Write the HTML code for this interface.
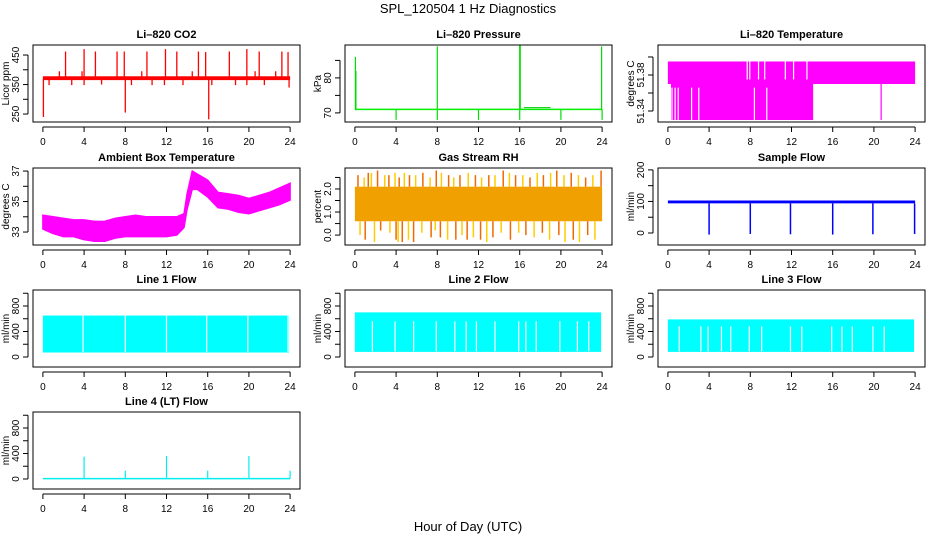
<!DOCTYPE html>
<html><head><meta charset="utf-8"><style>
body{margin:0;background:#fff}
svg{display:block;font-family:"Liberation Sans",Arial,sans-serif}
</style></head><body>
<svg id="chart" width="936" height="540" viewBox="0 0 936 540">
<text x="468" y="13" text-anchor="middle" font-size="13">SPL_120504  1 Hz Diagnostics</text>
<text x="468" y="531" text-anchor="middle" font-size="13">Hour of Day (UTC)</text>
</svg>
<script>
// ---- data arrays ----
const xTicks = [0,4,8,12,16,20,24];
const hours = [0,1,2,3,4,5,6,7,8,9,10,11,12,13,13.7,14,14.5,15,16,17,18,19,20,21,22,23,24];
// CO2
const co2Base = [365,378];
const co2SpikeHours = [2.2,4.0,5.1,7.2,7.9,10.1,11.9,13.0,15.1,15.8,18.1,19.8,21.0,23.2,23.8,1.6,3.8,9.6,14.5,20.6,22.6];
const co2SpikeValues = [462,470,462,462,462,462,470,462,462,460,462,470,462,462,460,395,395,395,395,395,395];
const co2DipHours = [0.05,8.0,16.1,0.6,2.8,4.0,5.7,8.6,10.6,11.8,13.6,16.4,18.7,19.8,21.5,23.9];
const co2DipValues = [240,255,232,348,348,348,350,348,348,348,348,348,348,348,348,340];
// Pressure
const presBase = 71;
const presSpikeHours = [0.05,0.1,8.0,16.0,16.05,23.95];
const presSpikeValues = [86,82,89,89.5,89.5,89];
const presDipHours = [4.0,8.0,12.0,16.0,20.0,24.0];
const presDipValues = [68,68,68,68,68,68];
// Li-820 temperature
const tempUpper = [51.37,51.395];
const tempLower = [51.33,51.37];
const tempLowerEnd = 14.1;
const tempUpperGaps = [7.7,7.95,8.8,9.4,11.4,12.2,13.5];
const tempLowerGaps = [0.4,0.7,1.0,2.3,3.0,8.4,9.6];
const tempLowerExtra = [20.7];
// Ambient box temperature
const ambMin = [33.2,32.9,32.7,32.7,32.5,32.4,32.4,32.6,32.7,32.7,32.7,32.7,32.7,32.8,33.3,34.5,35.8,35.8,35.3,34.6,34.5,34.3,34.2,34.4,34.6,34.8,35.1];
const ambMax = [34.1,34.0,33.9,33.8,33.8,33.7,33.7,33.9,34.0,34.1,34.0,34.0,34.0,34.0,34.2,35.5,37.0,36.8,36.4,35.6,35.5,35.4,35.2,35.4,35.6,35.9,36.2];
// Gas stream RH
const rhBand = [0.6,2.1];
const rhUpHours = [0.3,0.9,1.3,1.6,2.2,2.9,3.3,3.9,4.3,4.8,5.3,5.9,6.6,7.3,7.9,8.4,9.1,9.6,10.2,11.0,11.7,12.3,13.0,13.6,14.4,15.0,15.6,16.3,17.0,17.7,18.3,19.0,19.6,20.3,21.0,21.7,22.4,23.1,23.9];
const rhUpValues = [2.6,2.5,2.7,2.7,2.8,2.6,2.6,2.7,2.5,2.7,2.6,2.6,2.7,2.5,2.8,2.7,2.6,2.5,2.6,2.7,2.6,2.5,2.6,2.6,2.8,2.7,2.6,2.6,2.5,2.7,2.6,2.7,2.8,2.6,2.7,2.6,2.5,2.6,2.8];
const rhDownHours = [0.5,1.0,1.9,2.5,3.4,4.0,4.2,4.6,5.2,5.7,6.5,7.4,7.8,8.3,9.0,9.8,10.4,10.9,11.5,12.2,12.8,13.4,14.2,15.1,15.9,16.6,17.4,18.2,18.9,19.8,20.4,21.2,21.8,22.6,23.3];
const rhDownValues = [0.0,-0.2,-0.3,0.2,0.1,-0.2,-0.3,-0.3,-0.2,-0.3,0.1,-0.1,0.2,-0.1,-0.2,-0.2,0.0,-0.2,-0.1,-0.2,-0.3,-0.1,0.1,-0.2,0.1,0.0,-0.1,0.1,-0.2,0.0,-0.3,-0.2,-0.3,0.0,-0.2];
// Sample flow
const sampleBand = [94,103];
const sampleDipHours = [4.0,8.0,11.9,16.0,19.9,23.95];
const sampleDipValues = [-5,-3,-4,-5,-4,-3];
// Line flows
const line1Band = [70,650];
const line1Gaps = [3.9,8.0,12.0,15.9,19.9,23.8];
const line1GapTop = 650;
const line2Band = [80,700];
const line2Gaps = [1.7,3.9,5.7,7.9,9.7,10.8,11.8,13.6,15.9,16.6,17.6,19.9,21.6,22.7];
const line2GapTop = 560;
const line3Band = [80,590];
const line3Gaps = [1.1,3.2,3.9,5.2,6.1,7.9,9.1,11.9,13.0,15.9,16.9,17.9,19.9,21.0];
const line3GapTop = 480;
const line4Base = 5;
const line4SpikeHours = [4.0,8.0,12.0,16.0,20.0,24.0];
const line4SpikeValues = [350,130,360,130,360,130];

// ---- layout ----
const NS="http://www.w3.org/2000/svg";
const svg=document.getElementById('chart');
const cols=[33,345,658], rows=[45,168,290,412], W=267, H=77;
const defs=document.createElementNS(NS,'defs');svg.appendChild(defs);
let clipId=0;
function el(tag,attrs,parent){const e=document.createElementNS(NS,tag);for(const k in attrs)e.setAttribute(k,attrs[k]);(parent||svg).appendChild(e);return e;}

function panel(name,title,col,row,ylim,yticks,ylabels,ylab){
  const x0=cols[col],y0=rows[row];
  const g=el('g',{});
  
  
  const sx=v=>x0+(v+0.96)/25.92*W;
  const sy=v=>y0+H-(v-ylim[0])/(ylim[1]-ylim[0])*H;
  const t=el('text',{x:x0+W/2,y:y0-7,'text-anchor':'middle','font-size':11,'font-weight':'bold'},g);
  t.textContent=title;
  
  
  const cid='clip'+(clipId++);
  const cp=el('clipPath',{id:cid},defs);
  el('rect',{x:x0,y:y0,width:W,height:H},cp);
  const plot=el('g',{'clip-path':`url(#${cid})`},g);
  
  
  const box=el('rect',{x:x0,y:y0,width:W,height:H,fill:'none',stroke:'#000','stroke-width':1},g);
  
  
  const xa=el('g',{},g);
  
  
  el('line',{x1:sx(0),x2:sx(24),y1:y0+H+5,y2:y0+H+5,stroke:'#000'},xa);
  xTicks.forEach(v=>{
    el('line',{x1:sx(v),x2:sx(v),y1:y0+H+5,y2:y0+H+10,stroke:'#000'},xa);
    const tx=el('text',{x:sx(v),y:y0+H+23,'text-anchor':'middle','font-size':10},xa);tx.textContent=v;
  });
  const ya=el('g',{},g);
  
  
  const ax=x0-5;
  el('line',{x1:ax,x2:ax,y1:sy(yticks[0]),y2:sy(yticks[yticks.length-1]),stroke:'#000'},ya);
  yticks.forEach(v=>{el('line',{x1:ax-5,x2:ax,y1:sy(v),y2:sy(v),stroke:'#000'},ya);});
  ylabels.forEach(v=>{
    const ty=el('text',{x:0,y:0,'text-anchor':'middle','font-size':10,transform:`translate(${ax-9},${sy(v)}) rotate(-90)`},ya);ty.textContent=v;
  });
  const yl=el('text',{x:0,y:0,'text-anchor':'middle','font-size':10,transform:`translate(${x0-24},${y0+H/2}) rotate(-90)`},g);
  yl.textContent=ylab;
  
  
  return {sx,sy,g:plot,x0,y0};
}
function vline(p,h,a,b,color,w){el('line',{x1:p.sx(h),x2:p.sx(h),y1:p.sy(a),y2:p.sy(b),stroke:color,'stroke-width':w||1.5},p.g);}
function band(p,h0,h1,a,b,color){el('rect',{x:p.sx(h0),y:p.sy(b),width:p.sx(h1)-p.sx(h0),height:p.sy(a)-p.sy(b),fill:color},p.g);}

// CO2
let p=panel('co2','Li–820 CO2',0,0,[223,484],[250,300,350,400,450],[250,350,450],'Licor ppm');
band(p,0,24,co2Base[0],co2Base[1],'#ff0000');
co2SpikeHours.forEach((h,i)=>vline(p,h,370,co2SpikeValues[i],'#ff0000',1.3));
co2DipHours.forEach((h,i)=>vline(p,h,370,co2DipValues[i],'#ff0000',1.3));
// Pressure
p=panel('pressure','Li–820 Pressure',1,0,[67.4,89.4],[70,75,80,85],[70,80],'kPa');
el('line',{x1:p.sx(0),x2:p.sx(24),y1:p.sy(presBase),y2:p.sy(presBase),stroke:'#00ee00','stroke-width':1.5},p.g);
el('line',{x1:p.sx(16.4),x2:p.sx(19),y1:p.sy(71.5),y2:p.sy(71.5),stroke:'#00cc00','stroke-width':1},p.g);
presSpikeHours.forEach((h,i)=>vline(p,h,presBase,presSpikeValues[i],'#00dd00',1.2));
presDipHours.forEach((h,i)=>vline(p,h,presBase,presDipValues[i],'#00dd00',1.2));
// Temperature
p=panel('li820-temp','Li–820 Temperature',2,0,[51.3278,51.4133],[51.34,51.36,51.38,51.40],[51.34,51.38],'degrees C');
band(p,0,24,tempUpper[0],tempUpper[1],'#ff00ff');
band(p,0.3,tempLowerEnd,tempLower[0],tempLower[1],'#ff00ff');
tempUpperGaps.forEach(h=>vline(p,h,tempUpper[1],51.375,'#fff',1.2));
tempLowerGaps.forEach(h=>vline(p,h,tempLower[0],51.366,'#fff',1.2));
tempLowerExtra.forEach(h=>vline(p,h,tempLower[0],tempLower[1],'#ff00ff',1.2));
// Ambient
p=panel('ambient-temp','Ambient Box Temperature',0,1,[32.15,37.2],[33,34,35,36,37],[33,35,37],'degrees C');
{let pts=hours.map((h,i)=>p.sx(h)+','+p.sy(ambMax[i]));
 for(let i=hours.length-1;i>=0;i--)pts.push(p.sx(hours[i])+','+p.sy(ambMin[i]));
 el('polygon',{points:pts.join(' '),fill:'#ff00ff',stroke:'#ff00ff','stroke-width':1.5},p.g);}
// RH
p=panel('gas-rh','Gas Stream RH',1,1,[-0.43,2.91],[0,0.5,1,1.5,2,2.5],['0.0','1.0','2.0'],'percent');
band(p,0,24,rhBand[0],rhBand[1],'#f0a000');
rhUpHours.forEach((h,i)=>vline(p,h,rhBand[1],rhUpValues[i],i%2?'#ffcc00':'#ee6a00',1.5));
rhDownHours.forEach((h,i)=>vline(p,h,rhBand[0],rhDownValues[i],i%2?'#ee6a00':'#ffcc00',1.5));
// Sample flow
p=panel('sample-flow','Sample Flow',2,1,[-38,206],[0,50,100,150,200],[0,100,200],'ml/min');
band(p,0,24,sampleBand[0],sampleBand[1],'#0000ff');
sampleDipHours.forEach((h,i)=>vline(p,h,sampleBand[0],sampleDipValues[i],'#0000ff',1.5));
// Line flows
function flow(name,title,col,row,bandv,gaps,gapTop){
  const q=panel(name,title,col,row,[-157,1051],[0,200,400,600,800,1000],[0,400,800],'ml/min');
  band(q,0,23.9,bandv[0],bandv[1],'#00ffff');
  gaps.forEach(h=>vline(q,h,bandv[0]+10,gapTop,'#fff',1.2));
  return q;
}
flow('line1-flow','Line 1 Flow',0,2,line1Band,line1Gaps,line1GapTop);
flow('line2-flow','Line 2 Flow',1,2,line2Band,line2Gaps,line2GapTop);
flow('line3-flow','Line 3 Flow',2,2,line3Band,line3Gaps,line3GapTop);
p=panel('line4-flow','Line 4 (LT) Flow',0,3,[-157,1051],[0,200,400,600,800,1000],[0,400,800],'ml/min');
el('line',{x1:p.sx(0),x2:p.sx(24),y1:p.sy(line4Base),y2:p.sy(line4Base),stroke:'#00eeee','stroke-width':1.5},p.g);
line4SpikeHours.forEach((h,i)=>vline(p,h,line4Base,line4SpikeValues[i],'#00eeee',1.2));
</script>
</body></html>
